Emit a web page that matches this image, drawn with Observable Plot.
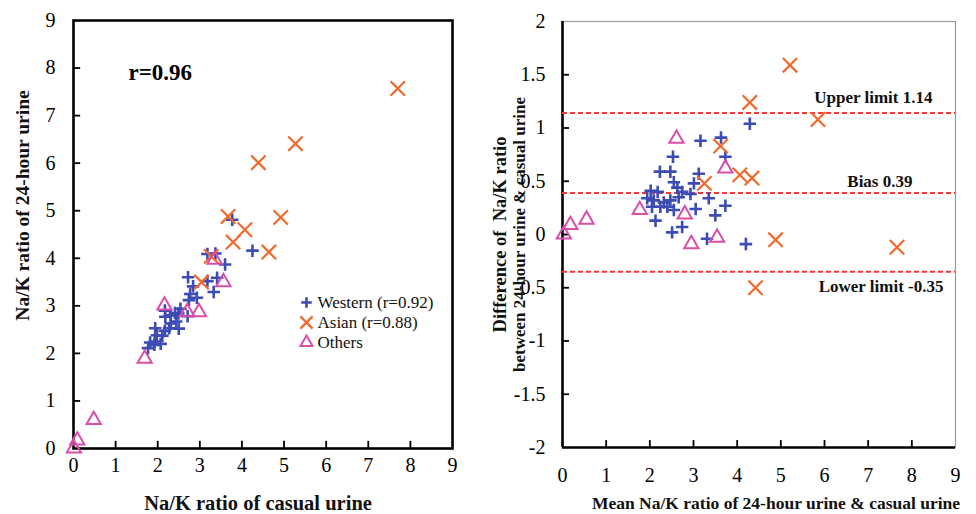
<!DOCTYPE html>
<html>
<head>
<meta charset="utf-8">
<script src="https://cdn.jsdelivr.net/npm/d3@7"></script>
<script src="https://cdn.jsdelivr.net/npm/@observablehq/plot@0.6"></script>
<style>
  html, body { margin: 0; padding: 0; background: #fff; }
  #wrap { display: flex; width: 976px; height: 514px; }
  #wrap svg { display: block; }
</style>
</head>
<body>
<div id="wrap"></div>
<script>
// ---- Data: scatter (casual urine Na/K, 24-hour urine Na/K) ----
const westernScatter = [[3.77,4.81],[2.72,3.60],[3.18,4.09],[2.17,2.90],[3.37,4.10],[1.94,2.53],[2.18,2.77],[2.84,3.41],[2.31,2.80],[2.41,2.85],[2.77,3.25],[1.82,2.23],[1.98,2.38],[2.54,2.94],[2.74,3.12],[1.77,2.11],[1.93,2.25],[2.17,2.47],[2.31,2.63],[2.49,2.84],[3.18,3.52],[1.92,2.18],[2.11,2.37],[2.27,2.53],[2.44,2.67],[2.93,3.17],[3.60,3.87],[3.41,3.59],[2.07,2.20],[2.71,2.78],[2.50,2.52],[3.33,3.29],[4.25,4.16]];
const asianScatter = [[7.70,7.57],[5.27,6.41],[4.39,6.01],[3.67,4.88],[4.92,4.86],[4.07,4.60],[3.79,4.34],[4.64,4.13],[3.27,4.04],[3.04,3.50]];
const othersScatter = [[0.01,0.00],[0.09,0.17],[0.48,0.60],[1.69,1.89],[2.16,3.01],[2.70,2.87],[2.98,2.87],[3.35,3.97],[3.56,3.50]];

// ---- Data: Bland-Altman (mean, difference) ----
const westernBA = [[4.29,1.04],[3.16,0.88],[3.63,0.91],[2.53,0.73],[3.73,0.73],[2.23,0.59],[2.47,0.59],[3.12,0.57],[2.55,0.49],[2.63,0.44],[3.01,0.48],[2.02,0.41],[2.18,0.40],[2.74,0.40],[2.93,0.38],[1.94,0.34],[2.09,0.32],[2.32,0.30],[2.47,0.32],[2.66,0.35],[3.35,0.34],[2.05,0.26],[2.24,0.26],[2.40,0.26],[2.55,0.23],[3.05,0.24],[3.73,0.27],[3.50,0.18],[2.13,0.13],[2.74,0.07],[2.51,0.02],[3.31,-0.04],[4.20,-0.09]];
const asianBA = [[7.66,-0.12],[5.85,1.08],[5.21,1.59],[4.29,1.24],[4.88,-0.05],[4.34,0.53],[4.06,0.56],[4.42,-0.50],[3.62,0.83],[3.25,0.48]];
const othersBA = [[0.03,0.00],[0.18,0.09],[0.55,0.14],[1.77,0.23],[2.61,0.90],[2.80,0.19],[2.95,-0.09],[3.54,-0.03],[3.73,0.62]];

const limitValues = [1.14, 0.39, -0.35];
const limitLabels = ["Upper limit 1.14", "Bias 0.39", "Lower limit -0.35"];
const legendLabels = ["Western (r=0.92)", "Asian (r=0.88)", "Others"];
const baYTitle = ["Difference of  Na/K ratio", "between 24-hour urine & casual urine"];
const scatterTicks = [0,1,2,3,4,5,6,7,8,9];
const baYTicks = [-2,-1.5,-1,-0.5,0,0.5,1,1.5,2];

// ---- Styles ----
const BLUE = "#3c4cb4", ORANGE = "#f26a2b", PINK = "#d94fa8", RED = "#f2383a";
const FONT = "'Liberation Serif', 'DejaVu Serif', serif";
const groups = [
  {symbol: "plus", stroke: BLUE, r: 4.1, strokeWidth: 2.6},
  {symbol: "times", stroke: ORANGE, r: 6.6, strokeWidth: 2.2},
  {symbol: "triangle2", stroke: PINK, r: 6.8, strokeWidth: 2}
];
const X = d => d[0], Y = d => d[1];

// ---- Left: scatter ----
const left = Plot.plot({
  width: 480, height: 514,
  marginLeft: 73, marginRight: 28, marginTop: 20, marginBottom: 66,
  style: {fontFamily: FONT, fontSize: "20px", background: "white", color: "black"},
  x: {domain: [0, 9], ticks: scatterTicks},
  y: {domain: [0, 9], ticks: scatterTicks},
  marks: [
    Plot.ruleX(scatterTicks.slice(1, -1), {y1: 0, y2: 0.15, stroke: "black", strokeWidth: 1.8}),
    Plot.ruleY(scatterTicks.slice(1, -1), {x1: 0, x2: 0.17, stroke: "black", strokeWidth: 1.8}),
    Plot.axisX({ticks: scatterTicks, tickSize: 0, tickPadding: 9, label: null, fontSize: 20, tickFormat: d3.format("d")}),
    Plot.axisY({ticks: scatterTicks, tickSize: 0, tickPadding: 18, label: null, fontSize: 20, tickFormat: d3.format("d")}),
    Plot.frame({stroke: "black", strokeWidth: 2.6}),
    ...[westernScatter, asianScatter, othersScatter].map((data, i) =>
      Plot.dot(data, {x: X, y: Y, ...groups[i], fill: "none"})),
    Plot.text(["r=0.96"], {frameAnchor: "top-left", dx: 55, dy: 52, textAnchor: "start", lineAnchor: "middle", fontSize: 23, fontWeight: "bold", fill: "black"}),
    ...legendLabels.map((lab, i) =>
      Plot.dot([lab], {frameAnchor: "top-left", dx: 233, dy: 282 + 20 * i, ...groups[i], r: groups[i].r * 0.85, fill: "none"})),
    ...legendLabels.map((lab, i) =>
      Plot.text([lab], {frameAnchor: "top-left", dx: 244, dy: 282 + 20 * i, textAnchor: "start", lineAnchor: "middle", fontSize: 17, fill: "#111"})),
    Plot.text(["Na/K ratio of casual urine"], {frameAnchor: "bottom", dx: -5, dy: 55, textAnchor: "middle", lineAnchor: "middle", fontSize: 20.5, fontWeight: "bold", fill: "#111"}),
    Plot.text(["Na/K ratio of 24-hour urine"], {frameAnchor: "left", dx: -51, dy: -29, rotate: -90, textAnchor: "middle", lineAnchor: "middle", fontSize: 19.5, fontWeight: "bold", fill: "#111"})
  ]
});

// ---- Right: Bland-Altman ----
const limitOffsets = [[-23, -16], [-43, -11], [-12, 15]];
const right = Plot.plot({
  width: 496, height: 514,
  marginLeft: 82, marginRight: 21, marginTop: 21, marginBottom: 67,
  style: {fontFamily: FONT, fontSize: "20px", background: "white", color: "black"},
  x: {domain: [0, 9], ticks: scatterTicks},
  y: {domain: [-2, 2], ticks: baYTicks},
  marks: [
    Plot.frame({stroke: "#9a9a9a", strokeWidth: 1.2}),
    Plot.ruleX(scatterTicks.slice(1, -1), {y1: -2, y2: -1.935, stroke: "black", strokeWidth: 1.8}),
    Plot.ruleY(baYTicks.slice(1, -1), {x1: 0, x2: 0.16, stroke: "black", strokeWidth: 1.8}),
    Plot.ruleX([0], {stroke: "black", strokeWidth: 2.6}),
    Plot.ruleY([-2], {stroke: "black", strokeWidth: 2.6}),
    Plot.axisX({ticks: scatterTicks, tickSize: 0, tickPadding: 20, label: null, fontSize: 20, tickFormat: d3.format("d")}),
    Plot.axisY({ticks: baYTicks, tickSize: 0, tickPadding: 17, label: null, fontSize: 20, tickFormat: d => String(d)}),
    Plot.ruleY(limitValues, {stroke: RED, strokeWidth: 2, strokeDasharray: "5,3"}),
    ...[westernBA, asianBA, othersBA].map((data, i) =>
      Plot.dot(data, {x: X, y: Y, ...groups[i], fill: "none"})),
    ...limitValues.map((v, i) =>
      Plot.text([v], {y: d => d, text: () => limitLabels[i], frameAnchor: "right", textAnchor: "end", lineAnchor: "middle", dx: limitOffsets[i][0], dy: limitOffsets[i][1], fontSize: 17, fontWeight: "bold", fill: "#111"})),
    Plot.text(["Mean Na/K ratio of 24-hour urine & casual urine"], {frameAnchor: "bottom", dx: 17, dy: 56, textAnchor: "middle", lineAnchor: "middle", fontSize: 17.5, fontWeight: "bold", fill: "#111"}),
    ...baYTitle.map((line, i) =>
      Plot.text([line], {frameAnchor: "left", dx: i === 0 ? -62 : -43, dy: 0, rotate: -90, textAnchor: "middle", lineAnchor: "middle", fontSize: i === 0 ? 18.5 : 17, fontWeight: "bold", fill: "#111"}))
  ]
});

document.getElementById("wrap").append(left, right);
</script>
</body>
</html>
